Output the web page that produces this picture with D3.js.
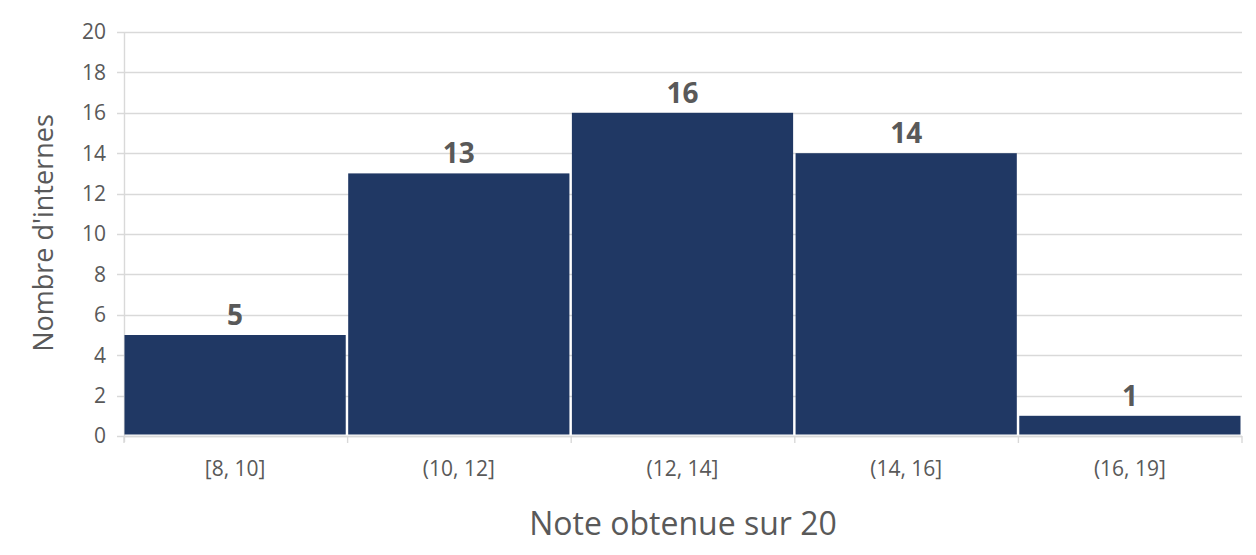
<!DOCTYPE html>
<html><head><meta charset="utf-8">
<script src="https://cdn.jsdelivr.net/npm/d3@7"></script>
<style>body{margin:0;background:#fff}svg{display:block}</style>
</head><body>
<svg id="c" width="1256" height="555"></svg>
<script>
const categories = ["[8, 10]", "(10, 12]", "(12, 14]", "(14, 16]", "(16, 19]"];
const counts = [5, 13, 16, 14, 1];
const yTicks = [0, 2, 4, 6, 8, 10, 12, 14, 16, 18, 20];
const xTitle = "Note obtenue sur 20";
const yTitle = "Nombre d'internes";

(function () {
const svg = d3.select("#c");
const font = "'Open Sans', 'Noto Sans', sans-serif";
const pL = 124, pR = 1242, pT = 32, pB = 436;
const x = d3.scaleBand().domain(categories).range([pL + 0.5, pR - 1.5]).paddingInner(0.011).paddingOuter(0);
const y = d3.scaleLinear().domain([0, 20]).range([pB, pT]);
const grid = "#d9d9d9", txt = "#595959";

svg.append("g").selectAll("line").data(yTicks).join("line")
  .attr("x1", pL - 7).attr("x2", pR)
  .attr("y1", d => Math.round(y(d)) + 0.5).attr("y2", d => Math.round(y(d)) + 0.5)
  .attr("stroke", grid).attr("stroke-width", 1.4);
svg.append("line").attr("x1", pL + 0.5).attr("x2", pL + 0.5).attr("y1", pT).attr("y2", pB + 6)
  .attr("stroke", grid).attr("stroke-width", 1.4);
svg.append("g").selectAll("text").data(yTicks).join("text")
  .attr("x", 106).attr("y", d => y(d)).attr("dy", "0.35em")
  .attr("text-anchor", "end").attr("font-family", font).attr("font-size", 21)
  .attr("fill", txt).text(d => d);

svg.append("g").selectAll("rect").data(counts).join("rect")
  .attr("x", (d, i) => x(categories[i])).attr("width", x.bandwidth())
  .attr("y", d => y(d)).attr("height", d => y(0) - y(d) - 1.5)
  .attr("fill", "#203864");

svg.append("line").attr("x1", pL).attr("x2", pR).attr("y1", pB + 0.5).attr("y2", pB + 0.5)
  .attr("stroke", grid).attr("stroke-width", 1.6);
const bounds = d3.range(categories.length + 1).map(i => pL + i * (pR - pL) / categories.length);
svg.append("g").selectAll("line").data(bounds).join("line")
  .attr("x1", d => d).attr("x2", d => d).attr("y1", pB).attr("y2", pB + 7)
  .attr("stroke", grid).attr("stroke-width", 1.4);

svg.append("g").selectAll("text").data(categories).join("text")
  .attr("x", d => x(d) + x.bandwidth() / 2).attr("y", 469).attr("dy", "0.35em")
  .attr("text-anchor", "middle").attr("font-family", font).attr("font-size", 21)
  .attr("fill", txt).text(d => d);

svg.append("g").selectAll("text").data(counts).join("text")
  .attr("x", (d, i) => x(categories[i]) + x.bandwidth() / 2).attr("y", d => y(d) - 10)
  .attr("text-anchor", "middle").attr("font-family", font).attr("font-size", 28).attr("font-weight", "bold")
  .attr("fill", txt).text(d => d);

svg.append("text").attr("x", 683).attr("y", 535)
  .attr("text-anchor", "middle").attr("font-family", font).attr("font-size", 32)
  .attr("fill", txt).text(xTitle);
svg.append("text").attr("transform", "translate(53,233) rotate(-90)")
  .attr("text-anchor", "middle").attr("font-family", font).attr("font-size", 27)
  .attr("fill", txt).text(yTitle);
})();
</script>
</body></html>
